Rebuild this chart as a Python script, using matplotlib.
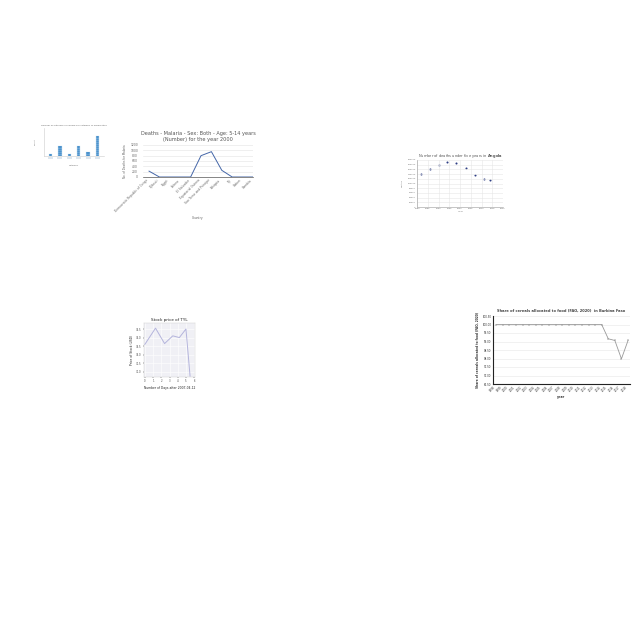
import numpy as np
import matplotlib.pyplot as plt

# --- data ---
dot_cats = ['A', 'B', 'C', 'D', 'E', 'F']
dot_counts = [1, 5, 1, 5, 2, 10]

malaria_countries = ['Democratic Republic of Congo', 'Djibouti', 'Egypt', 'Eritrea',
                     'El Salvador', 'Equatorial Guinea', 'Sao Tome and Principe',
                     'Ethiopia', 'Fiji', 'Gabon', 'Gambia']
malaria_deaths = [220, 0, 0, 0, 0, 800, 950, 250, 0, 0, 0]

angola_years = [1982, 1986, 1990, 1994, 1998, 2003, 2007, 2011, 2014]
angola_deaths = [141000, 160000, 180000, 191000, 188000, 164000, 138000, 121000, 115000]

tyl_days = [0, 1.3, 2.4, 3.4, 4.2, 5.0, 5.5]
tyl_price = [32.6, 33.55, 32.65, 33.1, 33.0, 33.5, 30.75]

bf_years = list(range(1998, 2019))
bf_share = [100.0] * 17 + [99.16, 99.06, 97.98, 99.06]

fig = plt.figure(figsize=(6.4, 6.4), dpi=100)
fig.patch.set_facecolor('white')


def place(l, t, r, b):
    # pixel box -> figure fraction
    return fig.add_axes([l / 640, 1 - b / 640, (r - l) / 640, (b - t) / 640])


# --- tiny segmented bar chart ---
ax1 = place(44, 128, 104, 156)
for i, n in enumerate(dot_counts):
    ax1.bar([i] * n, [1] * n, bottom=np.arange(n), width=0.36,
            color='#2b7fc4', edgecolor='#cfe3f3', linewidth=0.3)
ax1.set_xlim(-0.7, len(dot_cats) - 0.3)
ax1.set_ylim(0, 14)
ax1.set_xticks(range(len(dot_cats)))
ax1.set_xticklabels(['' for _ in dot_cats])
ax1.tick_params(length=0, labelsize=1.5)
ax1.set_yticks([0, 2, 4, 6, 8, 10, 12, 14])
ax1.set_yticklabels([])
for s in ['top', 'right']:
    ax1.spines[s].set_visible(False)
ax1.spines['left'].set_color('#cccccc')
ax1.spines['bottom'].set_color('#cccccc')
ax1.spines['left'].set_linewidth(0.4)
ax1.spines['bottom'].set_linewidth(0.4)
ax1.set_title('Number of outcomes recorded per category of observation', fontsize=1.6, color='#666666', pad=1.5)
ax1.set_ylabel('Count', fontsize=1.6, color='#777777', labelpad=2)
ax1.set_xlabel('Category', fontsize=1.6, color='#777777', labelpad=3)
for i in range(len(dot_cats)):
    ax1.text(i, -0.9, '      ', fontsize=1.5, ha='center', va='top',
             bbox=dict(boxstyle='square,pad=0.3', fc='#dde6ee', ec='none'))

# --- malaria line chart ---
ax2 = place(143, 145, 253, 177)
ax2.plot(range(len(malaria_countries)), malaria_deaths, color='#4466a8', lw=0.7)
ax2.set_xlim(-0.58, len(malaria_countries) - 1)
ax2.set_ylim(0, 1200)
ax2.set_yticks(range(0, 1201, 200))
ax2.set_xticks(range(len(malaria_countries)))
ax2.set_xticklabels(malaria_countries, rotation=45, ha='right', fontsize=2.2, color='#666666')
ax2.tick_params(axis='y', labelsize=2.2, labelcolor='#666666', length=0)
ax2.tick_params(axis='x', length=0, pad=1)
ax2.grid(axis='y', color='#e3e3e3', lw=0.4)
for s in ['top', 'right', 'left']:
    ax2.spines[s].set_visible(False)
ax2.spines['bottom'].set_color('#555555')
ax2.spines['bottom'].set_linewidth(0.5)
ax2.set_title('Deaths - Malaria - Sex: Both - Age: 5-14 years\n(Number) for the year 2000',
              fontsize=3.6, color='#555555', pad=3)
ax2.set_ylabel('No. of Deaths for Malaria', fontsize=2.0, color='#666666', labelpad=2)
ax2.set_xlabel('Country', fontsize=2.2, color='#666666', labelpad=2)

# --- Angola scatter ---
ax3 = place(417, 160, 503, 207)
ax3.scatter(angola_years, angola_deaths, s=2.2, color='#2f3f85', lw=0)
ax3.set_xlim(1980, 2020)
ax3.set_ylim(0, 200000)
ax3.set_xticks(range(1980, 2021, 5))
ax3.set_yticks(range(0, 200001, 20000))
ax3.tick_params(labelsize=1.6, labelcolor='#777777', length=0, pad=1)
ax3.grid(color='#e6e6e6', lw=0.4)
for s in ['top', 'right']:
    ax3.spines[s].set_visible(False)
ax3.spines['left'].set_color('#999999')
ax3.spines['bottom'].set_color('#999999')
ax3.spines['left'].set_linewidth(0.4)
ax3.spines['bottom'].set_linewidth(0.4)
ax3.set_title('Number of deaths under five years in $\\bf{Angola}$', fontsize=2.6, color='#555555', pad=2)
ax3.set_ylabel('Deaths', fontsize=1.6, color='#777777', labelpad=3)
ax3.set_xlabel('Year', fontsize=1.6, color='#777777', labelpad=1)

# --- TYL stock price ---
ax4 = place(144, 323, 195, 377)
ax4.set_facecolor('#f0f0f5')
ax4.plot(tyl_days, tyl_price, color='#b4b4dc', lw=0.7)
ax4.set_xlim(-0.1, 6.1)
ax4.set_ylim(30.7, 33.85)
ax4.set_xticks(range(0, 7))
ax4.set_yticks(np.arange(31.0, 33.6, 0.5))
ax4.tick_params(labelsize=1.8, labelcolor='#444444', length=0.8, width=0.3, pad=1)
ax4.grid(color='white', lw=0.4)
for s in ax4.spines.values():
    s.set_color('#cccccc')
    s.set_linewidth(0.3)
ax4.set_title('Stock price of TYL', fontsize=3.0, color='#222222', pad=1.5)
ax4.set_ylabel('Price of Stock (USD)', fontsize=2.2, color='#222222', labelpad=1.5)
ax4.set_xlabel('Number of Days after 2007-04-12', fontsize=2.2, color='#222222', labelpad=1.5)

# --- Burkina Faso cereals ---
ax5 = place(493, 316, 630, 384)
ax5.plot(bf_years, bf_share, color='#999999', lw=0.6, marker='+', ms=1.5, mew=0.3)
ax5.set_xlim(bf_years[0] - 0.5, bf_years[-1] + 0.3)
ax5.set_ylim(96.5, 100.5)
ax5.set_yticks(np.arange(96.5, 100.51, 0.5))
ax5.set_yticklabels(['%.2f' % v for v in np.arange(96.5, 100.51, 0.5)])
ax5.set_xticks(bf_years)
ax5.set_xticklabels([str(y) for y in bf_years], rotation=45, ha='right')
ax5.tick_params(labelsize=1.9, labelcolor='#333333', length=0, pad=1)
ax5.grid(axis='y', color='#e6e6e6', lw=0.4)
for s in ['top', 'right']:
    ax5.spines[s].set_visible(False)
ax5.spines['left'].set_color('#222222')
ax5.spines['bottom'].set_color('#222222')
ax5.spines['left'].set_linewidth(0.8)
ax5.spines['bottom'].set_linewidth(0.8)
ax5.set_title('Share of cereals allocated to food (FAO, 2020)  in Burkina Faso',
              fontsize=2.6, fontweight='bold', color='#444444', pad=3)
ax5.set_ylabel('Share of cereals allocated to food (FAO, 2020)', fontsize=2.1,
               fontweight='bold', color='#333333', labelpad=2)
ax5.set_xlabel('year', fontsize=2.3, fontweight='bold', color='#333333', labelpad=1.5)

fig.savefig('out.png', dpi=100, facecolor='white')
